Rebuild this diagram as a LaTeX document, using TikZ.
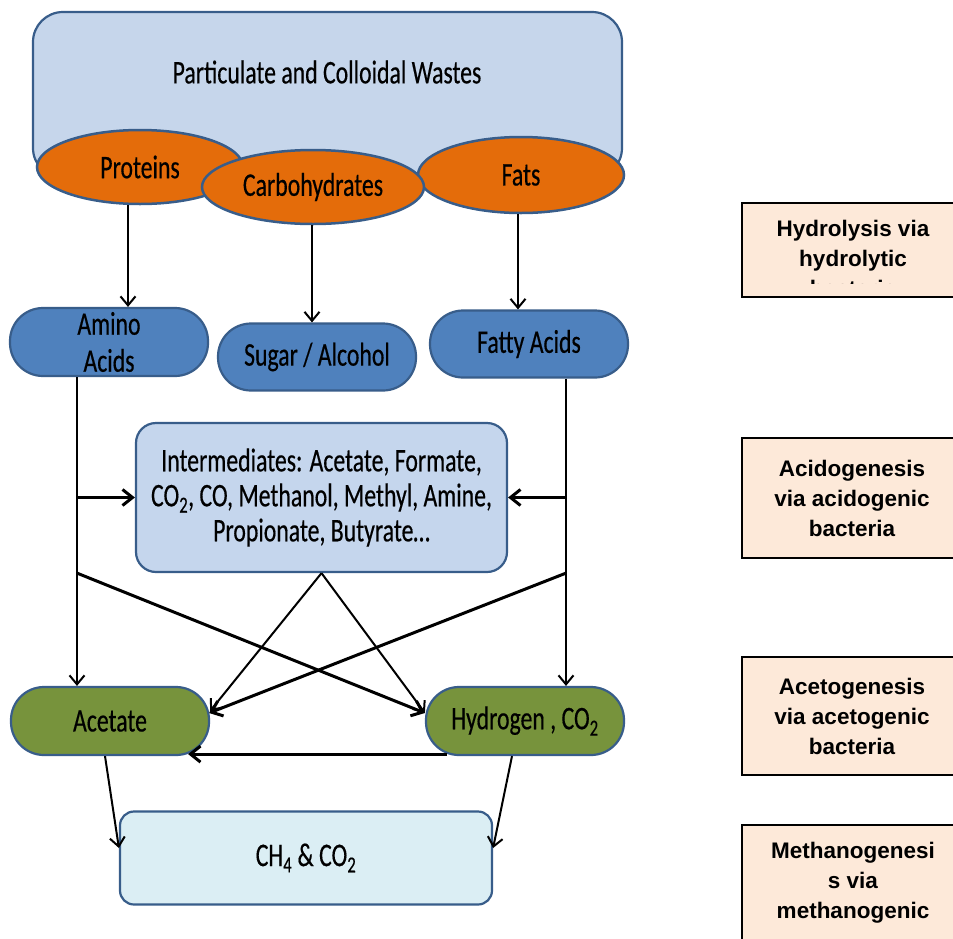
\documentclass[tikz,border=0pt]{standalone}
\usepackage{fontspec}
\usetikzlibrary{shapes.geometric,arrows.meta}
\newfontfamily\calib[FakeStretch=0.72,FakeBold=0.4]{Carlito}
\newfontfamily\arialf{Liberation Sans}
\definecolor{topfill}{RGB}{198,214,235}
\definecolor{bord}{RGB}{56,93,138}
\definecolor{orng}{RGB}{228,108,10}
\definecolor{pillblue}{RGB}{79,129,189}
\definecolor{interfill}{RGB}{197,214,237}
\definecolor{olivegr}{RGB}{119,147,60}
\definecolor{chfill}{RGB}{219,238,244}
\definecolor{peach}{RGB}{253,233,217}
\tikzset{
  cfont/.style={font=\calib\fontsize{33}{35}\selectfont},
  topbox/.style={draw=bord, line width=2.2pt, fill=topfill, rounded corners=30pt, minimum width=589pt, minimum height=166pt, inner sep=0pt},
  ell/.style={ellipse, draw=bord, line width=2.5pt, fill=orng, inner sep=0pt, cfont},
  pill/.style={draw=bord, line width=2.2pt, fill=pillblue, rounded corners=33pt, minimum width=198pt, minimum height=68pt, inner sep=0pt, align=center, font=\calib\fontsize{33}{37}\selectfont},
  gpill/.style={pill, fill=olivegr},
  interbox/.style={draw=bord, line width=2.2pt, fill=interfill, rounded corners=20pt, minimum width=371pt, minimum height=149pt, inner sep=0pt, align=center, cfont},
  chbox/.style={draw=bord, line width=2.2pt, fill=chfill, rounded corners=14pt, minimum width=372pt, minimum height=93pt, inner sep=0pt, cfont},
  rbox/.style={draw=black, line width=1.8pt, fill=peach, minimum width=220pt, inner sep=0pt},
  rtext/.style={align=center, inner sep=0pt, font=\arialf\bfseries\fontsize{22.5}{30}\selectfont},
  arr/.style={-{Straight Barb[length=9pt,width=15pt]}, line width=2pt},
  arrb/.style={-{Straight Barb[length=10pt,width=16pt]}, line width=3pt},
}
\begin{document}
\begin{tikzpicture}[x=1pt,y=-1pt]
\clip (0,0) rectangle (953,938);
\fill[white] (0,0) rectangle (953,938);
% top box
\node[topbox] (top) at (327.5,95) {};
\node[cfont, inner sep=0pt] (toptext) at (327,72) {Particulate and Colloidal Wastes};
\node[ell, minimum width=206pt, minimum height=74pt] (prot) at (140,167) {Proteins};
\node[ell, minimum width=206pt, minimum height=76pt] (fats) at (521,175) {Fats};
\node[ell, minimum width=222pt, minimum height=74pt] (carb) at (313,187) {Carbohydrates};
% second row
\node[pill] (amino) at (109,342) {Amino\\Acids};
\node[pill, minimum height=67pt] (sugar) at (317,357) {Sugar / Alcohol};
\node[pill, minimum height=67pt] (fatty) at (529,344) {Fatty Acids};
\draw[arr] ([xshift=-12pt]prot.south) -- ([xshift=-12pt]prot.south |- amino.north);
\draw[arr] ([xshift=-1pt]carb.south) -- ([xshift=-1pt]carb.south |- sugar.north);
\draw[arr] ([xshift=-3pt]fats.south) -- ([xshift=-3pt]fats.south |- fatty.north);
% intermediates
\node[interbox] (inter) at (321.5,497.5) {Intermediates: Acetate, Formate,\\CO\textsubscript{2}, CO, Methanol, Methyl, Amine,\\Propionate, Butyrate\dots};
% third row
\node[gpill] (acet) at (110,721) {Acetate};
\node[gpill] (hyd) at (525,721) {Hydrogen , CO\textsubscript{2}};
\node[chbox] (ch) at (306,858) {CH\textsubscript{4} \& CO\textsubscript{2}};
% side lines
\coordinate (aL) at ([xshift=-32pt]amino.south);
\coordinate (fL) at ([xshift=37pt]fatty.south);
\draw[arr] (aL) -- (aL |- acet.north);
\draw[arr] (fL) -- (fL |- hyd.north);
\draw[arrb] (aL |- inter.west) -- (inter.west);
\draw[arrb] (fL |- inter.east) -- (inter.east);
% crossing lines
\coordinate (aX) at (aL |- inter.south);
\coordinate (fX) at (fL |- inter.south);
\draw[arrb] (aX) -- ([yshift=8pt]hyd.west);
\draw[arrb] (fX) -- ([xshift=-1pt,yshift=8pt]acet.east);
\draw[arr] (inter.south) -- ([yshift=10pt]acet.east);
\draw[arr] (inter.south) -- ([yshift=8pt]hyd.west);
% bottom
\draw[arrb] ([xshift=22pt,yshift=2pt]hyd.south west) -- ([xshift=-22pt,yshift=2pt]acet.south east);
\draw[arr] ([xshift=-5pt]acet.south) -- ([yshift=10pt]ch.west);
\draw[arr] ([xshift=-13pt]hyd.south) -- ([yshift=10pt]ch.east);
% right boxes
\node[rbox, minimum height=94pt] (hydro) at (852,250) {};
\begin{scope}
\clip (hydro.north west) rectangle ([yshift=14pt]hydro.south east);
\node[rtext] (hydrotext) at (853,258) {Hydrolysis via\\hydrolytic\\bacteria};
\end{scope}
\node[rbox, minimum height=120pt, rtext, minimum width=220pt] (acido) at (852,498) {Acidogenesis\\via acidogenic\\bacteria};
\node[rbox, minimum height=118pt, rtext, minimum width=220pt] (aceto) at (852,716) {Acetogenesis\\via acetogenic\\bacteria};
\node[rbox, minimum height=150pt] (metha) at (852,900) {};
\node[rtext] (methatext) at (853,883) {Methanogenesi\\s via\\methanogenic};
\end{tikzpicture}
\end{document}
